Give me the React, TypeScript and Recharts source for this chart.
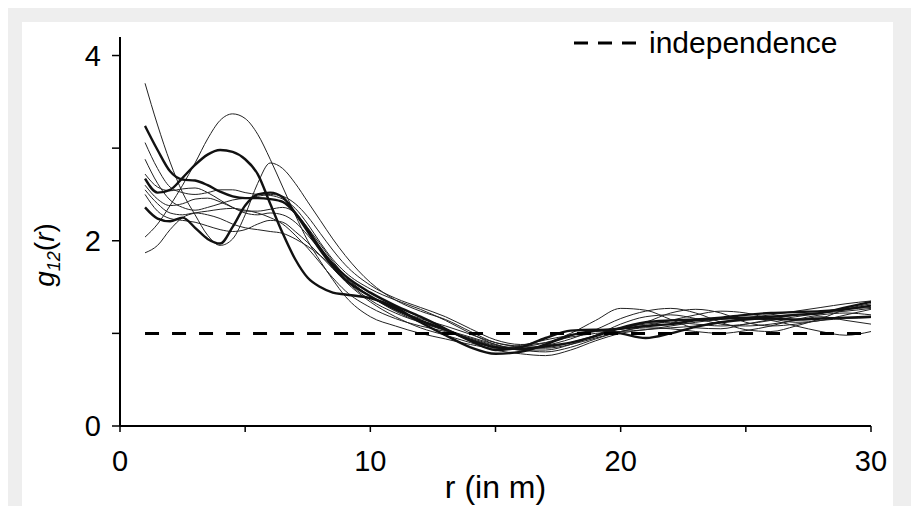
import { Label, Legend, Line, LineChart, ReferenceLine, XAxis, YAxis } from "recharts";

// distance r (in m) where each curve was sampled
const rValues = [1, 1.5, 2, 2.5, 3, 3.5, 4, 4.5, 5, 5.5, 6, 6.5, 7, 7.5, 8, 8.5, 9, 10, 11, 12, 13, 14, 15, 16, 17, 18, 19, 20, 21, 22, 23, 24, 25, 26, 27, 28, 29, 30];

// bold curves
const thickA = [3.24, 2.98, 2.75, 2.66, 2.65, 2.6, 2.53, 2.48, 2.46, 2.46, 2.45, 2.42, 2.3, 2.12, 1.92, 1.75, 1.62, 1.44, 1.3, 1.18, 1.05, 0.92, 0.82, 0.85, 0.95, 1.03, 1.04, 1.0, 0.95, 1.0, 1.07, 1.12, 1.15, 1.16, 1.15, 1.16, 1.17, 1.18];
const thickB = [2.67, 2.52, 2.55, 2.68, 2.82, 2.93, 2.98, 2.96, 2.88, 2.72, 2.4, 2.08, 1.8, 1.6, 1.5, 1.44, 1.42, 1.38, 1.28, 1.12, 0.98, 0.85, 0.78, 0.8, 0.88, 0.98, 1.03, 1.05, 1.08, 1.1, 1.14, 1.16, 1.17, 1.18, 1.2, 1.22, 1.28, 1.34];
const thickC = [2.36, 2.24, 2.21, 2.25, 2.14, 2.02, 1.97, 2.15, 2.38, 2.5, 2.52, 2.47, 2.3, 2.1, 1.9, 1.72, 1.58, 1.4, 1.26, 1.14, 1.04, 0.93, 0.85, 0.83, 0.86, 0.9, 0.97, 1.06, 1.12, 1.14, 1.15, 1.17, 1.2, 1.22, 1.23, 1.24, 1.26, 1.3];

// thin curves
const thin1 = [3.7, 3.25, 2.85, 2.52, 2.28, 2.06, 1.95, 2.02, 2.28, 2.62, 2.84, 2.78, 2.62, 2.42, 2.22, 2.02, 1.84, 1.55, 1.36, 1.24, 1.15, 1.02, 0.9, 0.86, 0.9, 1.0, 1.14, 1.27, 1.25, 1.15, 1.06, 1.05, 1.1, 1.15, 1.2, 1.22, 1.24, 1.27];
const thin2 = [2.04, 2.18, 2.38, 2.6, 2.84, 3.1, 3.3, 3.37, 3.32, 3.15, 2.88, 2.58, 2.28, 2.0, 1.78, 1.58, 1.4, 1.18, 1.08, 1.0, 0.94, 0.88, 0.84, 0.87, 0.93, 0.98, 1.02, 1.05, 1.12, 1.22, 1.26, 1.22, 1.12, 1.08, 1.1, 1.14, 1.16, 1.17];
const thin3 = [1.87, 1.95, 2.12, 2.25, 2.3, 2.32, 2.34, 2.35, 2.33, 2.3, 2.25, 2.18, 2.06, 1.92, 1.76, 1.6, 1.46, 1.28, 1.16, 1.08, 1.02, 0.94, 0.86, 0.82, 0.8, 0.85, 0.94, 1.02, 1.06, 1.05, 1.02, 1.0, 1.03, 1.08, 1.15, 1.2, 1.22, 1.2];
const thin4 = [3.06, 2.78, 2.58, 2.52, 2.5, 2.52, 2.55, 2.55, 2.52, 2.5, 2.49, 2.45, 2.35, 2.18, 1.98, 1.8, 1.66, 1.48, 1.36, 1.26, 1.14, 1.0, 0.88, 0.84, 0.87, 0.94, 1.04, 1.16, 1.24, 1.27, 1.22, 1.12, 1.04, 1.02, 1.08, 1.16, 1.26, 1.32];
const thin5 = [2.88, 2.62, 2.44, 2.36, 2.33, 2.36, 2.4, 2.44, 2.46, 2.48, 2.5, 2.48, 2.4, 2.26, 2.08, 1.9, 1.74, 1.52, 1.38, 1.28, 1.18, 1.05, 0.93, 0.88, 0.9, 0.96, 1.0, 1.02, 1.04, 1.08, 1.12, 1.15, 1.17, 1.2, 1.24, 1.28, 1.32, 1.35];
const thin6 = [2.72, 2.58, 2.54, 2.56, 2.57, 2.52, 2.44, 2.36, 2.3, 2.28, 2.3, 2.28, 2.2, 2.06, 1.9, 1.74, 1.58, 1.36, 1.22, 1.12, 1.04, 0.96, 0.88, 0.82, 0.82, 0.88, 0.98, 1.1, 1.18, 1.2, 1.16, 1.1, 1.08, 1.1, 1.14, 1.18, 1.14, 1.1];
const thin7 = [2.5, 2.32, 2.24, 2.22, 2.2, 2.16, 2.12, 2.1, 2.12, 2.18, 2.22, 2.2, 2.1, 1.98, 1.84, 1.7, 1.56, 1.34, 1.18, 1.06, 0.98, 0.9, 0.82, 0.78, 0.76, 0.82, 0.92, 1.0, 1.04, 1.06, 1.08, 1.12, 1.16, 1.14, 1.08, 1.02, 0.98, 1.02];
const thin8 = [2.6, 2.45, 2.38, 2.4, 2.45, 2.46, 2.42, 2.36, 2.32, 2.32, 2.34, 2.36, 2.3, 2.14, 1.96, 1.78, 1.62, 1.4, 1.26, 1.16, 1.08, 0.99, 0.9, 0.86, 0.85, 0.9, 0.98, 1.06, 1.1, 1.12, 1.1, 1.08, 1.1, 1.14, 1.18, 1.22, 1.26, 1.28];
const thin9 = [2.55, 2.4, 2.3, 2.28, 2.3, 2.28, 2.24, 2.18, 2.14, 2.12, 2.1, 2.08, 2.02, 1.94, 1.84, 1.72, 1.6, 1.4, 1.24, 1.12, 1.03, 0.95, 0.87, 0.84, 0.84, 0.88, 0.95, 1.02, 1.08, 1.14, 1.2, 1.24, 1.22, 1.16, 1.12, 1.14, 1.2, 1.26];

// independence reference g12(r) = 1, drawn from r = 1 to r = 30
const independenceLevel = 1;
const independenceFrom = 1;
const independenceTo = 30;

const xTicks = [0, 5, 10, 15, 20, 25, 30];
const xLabelled = [0, 10, 20, 30];
const yTicks = [0, 1, 2, 3, 4];
const yLabelled = [0, 2, 4];

const thinSeries = { thin1, thin2, thin3, thin4, thin5, thin6, thin7, thin8, thin9 };
const thickSeries = { thickA, thickB, thickC };

const rows = rValues.map((r, i) => {
  const row: Record<string, number> = { r };
  Object.entries(thinSeries).forEach(([k, v]) => (row[k] = v[i]));
  Object.entries(thickSeries).forEach(([k, v]) => (row[k] = v[i]));
  return row;
});

const font = "'Liberation Sans', Arial, sans-serif";

function YTitle() {
  return (
    <text x={32} y={233} transform="rotate(-90, 32, 233)" textAnchor="middle" fontFamily={font} fontSize={28} fill="#000">
      <tspan fontStyle="italic">g</tspan>
      <tspan fontStyle="italic" fontSize={18} dy={6}>12</tspan>
      <tspan dy={-6}>(</tspan>
      <tspan fontStyle="italic">r</tspan>
      <tspan>)</tspan>
    </text>
  );
}

function LegendBox() {
  return (
    <div style={{ display: "flex", alignItems: "center" }}>
      <svg width={64} height={6}>
        <line x1={0} y1={3} x2={64} y2={3} stroke="#000" strokeWidth={3} strokeDasharray="14 10" />
      </svg>
      <span style={{ marginLeft: 11, fontFamily: font, fontSize: 30, color: "#000", lineHeight: "34px" }}>independence</span>
    </div>
  );
}

export default function App() {
  return (
    <div style={{ position: "absolute", left: 8, top: 8, width: 903, height: 498, background: "#eeeeee", paddingTop: 14, paddingLeft: 14, boxSizing: "border-box", overflow: "hidden" }}>
      <div style={{ width: 871, height: 484, background: "#fff", position: "relative", overflow: "hidden" }}>
        <LineChart width={871} height={484} data={rows} margin={{ top: 15, right: 22, bottom: 0, left: 0 }}>
          <XAxis
            type="number"
            dataKey="r"
            domain={[0, 30]}
            ticks={xTicks}
            allowDataOverflow
            height={80}
            tickFormatter={(v: number) => (xLabelled.includes(v) ? String(v) : "")}
            tick={{ fontSize: 29, fill: "#000", fontFamily: font }}
            tickSize={6}
            tickMargin={18}
            axisLine={{ stroke: "#000", strokeWidth: 2 }}
            tickLine={{ stroke: "#000", strokeWidth: 1.5 }}
          >
            <Label value="r (in m)" position="insideBottom" offset={8} style={{ fontSize: 32, fill: "#000", fontFamily: font }} />
          </XAxis>
          <YAxis
            type="number"
            domain={[0, 4.2]}
            ticks={yTicks}
            allowDataOverflow
            width={98}
            tickFormatter={(v: number) => (yLabelled.includes(v) ? String(v) : "")}
            tick={{ fontSize: 29, fill: "#000", fontFamily: font }}
            tickSize={8}
            tickMargin={11}
            axisLine={{ stroke: "#000", strokeWidth: 2 }}
            tickLine={{ stroke: "#000", strokeWidth: 1.5 }}
          >
            <Label content={() => <YTitle />} />
          </YAxis>
          {Object.keys(thinSeries).map((k) => (
            <Line key={k} type="monotone" dataKey={k} stroke="#222" strokeWidth={1} dot={false} activeDot={false} isAnimationActive={false} />
          ))}
          {Object.keys(thickSeries).map((k) => (
            <Line key={k} type="monotone" dataKey={k} stroke="#111" strokeWidth={2.4} dot={false} activeDot={false} isAnimationActive={false} />
          ))}
          <ReferenceLine
            segment={[
              { x: independenceFrom, y: independenceLevel },
              { x: independenceTo, y: independenceLevel },
            ]}
            stroke="#000"
            strokeWidth={3}
            strokeDasharray="14 13"
          />
          <Legend verticalAlign="middle" layout="horizontal" wrapperStyle={{ position: "absolute", top: 4, left: 552, width: "auto" }} content={() => <LegendBox />} />
        </LineChart>
      </div>
    </div>
  );
}
